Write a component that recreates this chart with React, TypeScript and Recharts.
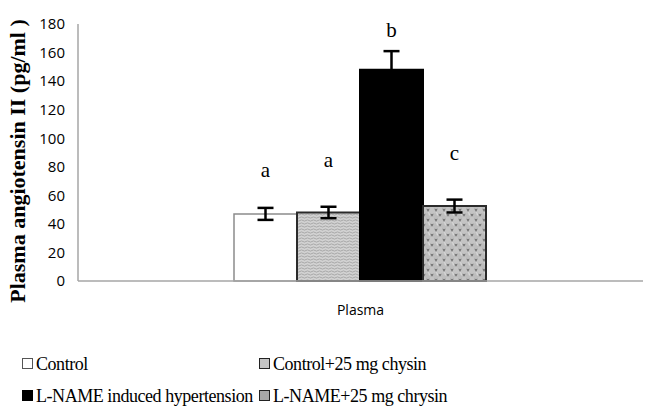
import React from 'react';
import { BarChart, Bar, XAxis, YAxis, ErrorBar, LabelList } from 'recharts';

// values (pg/ml)
const groups = ['Control', 'Control+25 mg chysin', 'L-NAME induced hypertension', 'L-NAME+25 mg chrysin'];
const means = [47, 48, 148, 52.5];
const errors = [4.2, 4, 13, 4.5];
const letters = ['a', 'a', 'b', 'c'];
const yTicks = [0, 20, 40, 60, 80, 100, 120, 140, 160, 180];

const keys = ['control', 'controlChrysin', 'lname', 'lnameChrysin'];

const row: Record<string, any> = { name: 'Plasma' };
keys.forEach((k, i) => {
  row[k] = means[i];
  row[k + 'Err'] = errors[i];
  row[k + 'Letter'] = letters[i];
});
const data = [row];

const fills = ['#ffffff', 'url(#wave)', '#000000', 'url(#scales)'];
const strokes = ['#8c8c8c', '#2b2b2b', '#000000', '#2b2b2b'];
// how far each letter sits above its error bar (px)
const letterLift = [31, 40, 14, 40];

const serif = '"Liberation Serif", "Times New Roman", serif';
const sans = '"Open Sans", "Liberation Sans", sans-serif';

const LetterLabel = (i: number) => (props: any) => {
  const { x, y, width, height, value } = props;
  const pxPerUnit = height / means[i];
  const top = y - errors[i] * pxPerUnit - letterLift[i];
  return (
    <text x={x + width / 2} y={top} textAnchor="middle" fontFamily={serif} fontSize={21} fill="#000">
      {value}
    </text>
  );
};

const Swatch = ({ fill, stroke }: { fill: string; stroke: string }) => (
  <span
    style={{
      display: 'inline-block',
      width: 9,
      height: 9,
      background: fill,
      border: `1px solid ${stroke}`,
      marginRight: 3,
      verticalAlign: 'middle',
      position: 'relative',
      top: -2,
    }}
  />
);

const legendSwatches = [
  { fill: '#ffffff', stroke: '#555' },
  { fill: '#c4c4c4', stroke: '#222' },
  { fill: '#000000', stroke: '#000' },
  { fill: '#a8a8a8', stroke: '#222' },
];
const legendPos = [
  { left: 22, top: 354 },
  { left: 259, top: 354 },
  { left: 22, top: 386 },
  { left: 259, top: 386 },
];

export default function App() {
  return (
    <div style={{ position: 'absolute', left: 0, top: 0, width: 646, height: 410, background: '#fff' }}>
      <BarChart
        width={646}
        height={330}
        data={data}
        margin={{ top: 24, right: 3, left: 0, bottom: 0 }}
        barCategoryGap={156}
        barGap={0}
      >
        <defs>
          <pattern id="wave" width="6" height="3" patternUnits="userSpaceOnUse">
            <rect width="6" height="3" fill="#d2d2d2" />
            <path d="M0 1.5 Q1.5 0.3 3 1.5 T6 1.5" stroke="#959595" strokeWidth="0.7" fill="none" />
          </pattern>
          <pattern id="scales" width="8" height="10" patternUnits="userSpaceOnUse">
            <rect width="8" height="10" fill="#7a7a7a" />
            <path d="M4 0.8 Q7.6 4 7.4 8.2 Q4 9.6 0.6 8.2 Q0.4 4 4 0.8Z" fill="#bdbdbd" />
            <path d="M0 -4.2 Q3.6 -1 3.4 3.2 Q0 4.6 -3.4 3.2 Q-3.6 -1 0 -4.2Z" fill="#c4c4c4" />
            <path d="M8 -4.2 Q11.6 -1 11.4 3.2 Q8 4.6 4.6 3.2 Q4.4 -1 8 -4.2Z" fill="#c4c4c4" />
            <path d="M0 5.8 Q3.6 9 3.4 13.2 L-3.4 13.2 Q-3.6 9 0 5.8Z" fill="#c4c4c4" />
            <path d="M8 5.8 Q11.6 9 11.4 13.2 L4.6 13.2 Q4.4 9 8 5.8Z" fill="#c4c4c4" />
            <path d="M4 2.2 Q5.5 3.6 5.4 5.4" stroke="#e4e4e4" strokeWidth="0.9" fill="none" />
          </pattern>
        </defs>
        <XAxis
          dataKey="name"
          height={49}
          tickLine={false}
          tickMargin={18}
          axisLine={{ stroke: '#a6a6a6', strokeWidth: 1.5 }}
          tick={{ fontFamily: sans, fontSize: 14, fill: '#000' }}
        />
        <YAxis
          width={78}
          domain={[0, 180]}
          ticks={yTicks}
          interval={0}
          tickLine={false}
          tickMargin={7}
          axisLine={{ stroke: '#a6a6a6', strokeWidth: 1.5 }}
          tick={{ fontFamily: sans, fontSize: 15, fill: '#000' }}
        />
        {keys.map((k, i) => (
          <Bar
            key={k}
            dataKey={k}
            name={groups[i]}
            fill={fills[i]}
            stroke={strokes[i]}
            strokeWidth={i === 0 ? 1.5 : 2}
            isAnimationActive={false}
          >
            <ErrorBar dataKey={k + 'Err'} width={8} stroke="#000" strokeWidth={2.5} />
            <LabelList dataKey={k + 'Letter'} content={LetterLabel(i)} />
          </Bar>
        ))}
      </BarChart>

      <div
        style={{
          position: 'absolute',
          left: 3,
          top: 24,
          height: 274,
          width: 30,
          display: 'flex',
          alignItems: 'center',
          justifyContent: 'center',
        }}
      >
        <div
          style={{
            transform: 'rotate(-90deg)',
            whiteSpace: 'nowrap',
            fontFamily: serif,
            fontWeight: 'bold',
            fontSize: 22,
            color: '#000',
          }}
        >
          Plasma angiotensin II (pg/ml )
        </div>
      </div>

      {groups.map((g, i) => (
        <div
          key={g}
          style={{
            position: 'absolute',
            left: legendPos[i].left,
            top: legendPos[i].top,
            fontFamily: serif,
            fontSize: 18,
            letterSpacing: -0.45,
            color: '#000',
            whiteSpace: 'nowrap',
          }}
        >
          <Swatch fill={legendSwatches[i].fill} stroke={legendSwatches[i].stroke} />
          {g}
        </div>
      ))}
    </div>
  );
}
